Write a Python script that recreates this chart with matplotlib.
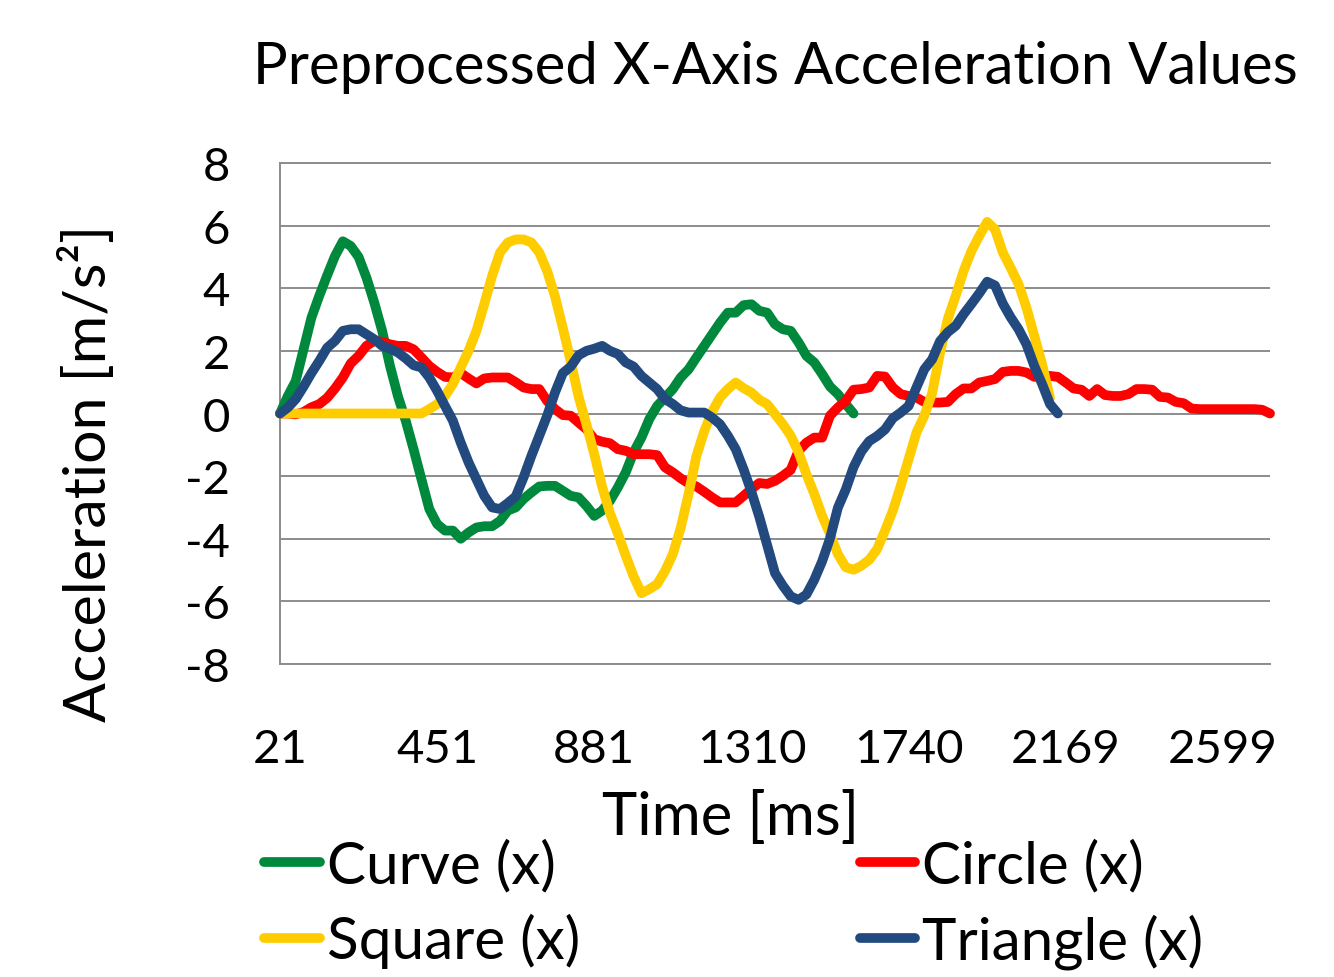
import matplotlib
matplotlib.use("Agg")
import matplotlib.pyplot as plt
from matplotlib.lines import Line2D
import numpy as np

plt.rcParams['font.family'] = ['Lato', 'DejaVu Sans']

title = "Preprocessed X-Axis Acceleration Values"
x_label = "Time [ms]"
y_label = "Acceleration [m/s²]"

# category tick labels (one label every 20 samples)
x_tick_labels = ["21", "451", "881", "1310", "1740", "2169", "2599"]
label_every = 20
y_ticks = [-8, -6, -4, -2, 0, 2, 4, 6, 8]

curve_x = [0, 0.56, 1.04, 2.05, 3.06, 3.76, 4.41, 5.03, 5.5, 5.35,
           5.0, 4.34, 3.54, 2.64, 1.52, 0.56, -0.23, -1.14, -2.1, -3.05,
           -3.53, -3.74, -3.74, -4.0, -3.8, -3.64, -3.6, -3.6, -3.43, -3.1,
           -3.0, -2.73, -2.52, -2.33, -2.31, -2.31, -2.47, -2.63, -2.68, -2.95,
           -3.27, -3.1, -2.79, -2.36, -1.88, -1.24, -0.77, -0.18, 0.24, 0.51,
           0.78, 1.15, 1.41, 1.79, 2.16, 2.53, 2.9, 3.22, 3.22, 3.46,
           3.49, 3.28, 3.22, 2.85, 2.69, 2.64, 2.27, 1.84, 1.63, 1.26,
           0.86, 0.62, 0.3, 0.0]

circle_x = [0, 0, -0.03, 0.05, 0.2, 0.3, 0.5, 0.8, 1.15, 1.6,
            1.84, 2.16, 2.32, 2.29, 2.21, 2.16, 2.16, 2.05, 1.79, 1.52,
            1.33, 1.17, 1.15, 1.29, 1.12, 0.96, 1.12, 1.15, 1.15, 1.15,
            1.0, 0.83, 0.78, 0.78, 0.4, 0.14, -0.05, -0.07, -0.29, -0.5,
            -0.82, -0.9, -0.95, -1.14, -1.19, -1.3, -1.3, -1.3, -1.33, -1.72,
            -1.88, -2.07, -2.23, -2.33, -2.5, -2.68, -2.84, -2.84, -2.84, -2.63,
            -2.41, -2.22, -2.25, -2.15, -1.99, -1.8, -1.19, -0.93, -0.77, -0.77,
            -0.07, 0.19, 0.4, 0.76, 0.78, 0.83, 1.2, 1.18, 0.83, 0.62,
            0.56, 0.51, 0.37, 0.35, 0.35, 0.37, 0.62, 0.8, 0.8, 0.99,
            1.04, 1.1, 1.33, 1.36, 1.36, 1.31, 1.17, 1.2, 1.2, 1.17,
            0.99, 0.8, 0.76, 0.56, 0.78, 0.59, 0.56, 0.56, 0.62, 0.78,
            0.78, 0.76, 0.53, 0.51, 0.37, 0.33, 0.16, 0.14, 0.14, 0.14,
            0.14, 0.14, 0.14, 0.14, 0.14, 0.12, 0.0]

square_x = [0, 0, 0, 0, 0, 0, 0, 0, 0, 0,
            0, 0, 0, 0, 0, 0, 0, 0, 0, 0.14,
            0.3, 0.56, 0.94, 1.47, 2.0, 2.64, 3.5, 4.4, 5.14, 5.46,
            5.56, 5.56, 5.46, 5.14, 4.55, 3.74, 2.73, 1.67, 0.54, -0.35,
            -1.3, -2.34, -3.18, -3.84, -4.54, -5.2, -5.74, -5.61, -5.45, -5.03,
            -4.49, -3.65, -2.57, -1.35, -0.56, 0.06, 0.51, 0.78, 0.99, 0.81,
            0.67, 0.44, 0.3, -0.02, -0.34, -0.71, -1.24, -1.94, -2.57, -3.27,
            -3.85, -4.49, -4.91, -4.99, -4.86, -4.67, -4.33, -3.74, -3.1, -2.31,
            -1.46, -0.61, -0.07, 0.65, 1.93, 3.03, 3.76, 4.55, 5.19, 5.67,
            6.12, 5.88, 5.14, 4.65, 4.13, 3.38, 2.48, 1.57, 0.5]

triangle_x = [0, 0.19, 0.46, 0.86, 1.29, 1.68, 2.1, 2.32, 2.64, 2.69,
              2.69, 2.53, 2.37, 2.16, 2.07, 1.95, 1.76, 1.54, 1.47, 1.15,
              0.72, 0.24, -0.23, -0.93, -1.56, -2.1, -2.63, -3.0, -3.05, -2.86,
              -2.65, -2.04, -1.35, -0.71, -0.07, 0.67, 1.29, 1.5, 1.86, 2.0,
              2.07, 2.16, 2.0, 1.9, 1.63, 1.5, 1.2, 0.99, 0.78, 0.46,
              0.3, 0.1, 0.03, 0.03, 0.03, -0.13, -0.34, -0.71, -1.14, -1.78,
              -2.5, -3.3, -4.2, -5.1, -5.5, -5.84, -5.95, -5.78, -5.31, -4.72,
              -3.99, -3.01, -2.43, -1.71, -1.21, -0.88, -0.72, -0.51, -0.15, 0.03,
              0.24, 0.83, 1.41, 1.73, 2.31, 2.6, 2.8, 3.17, 3.5, 3.84,
              4.21, 4.09, 3.51, 3.07, 2.69, 2.21, 1.52, 0.94, 0.3, 0.0]

series = [
    ("Curve (x)", curve_x, "#00893C"),
    ("Circle (x)", circle_x, "#FF0000"),
    ("Square (x)", square_x, "#FFCC00"),
    ("Triangle (x)", triangle_x, "#224A7E"),
]

W, H = 1334, 978
fig = plt.figure(figsize=(W / 100, H / 100), dpi=100)
ax = fig.add_axes([280 / W, 1 - 665 / H, (1270 - 280) / W, (665 - 164) / H])

lw = 7.0
handles = {}
for z, (name, vals, color) in enumerate(series):
    xs = np.arange(len(vals))
    ln, = ax.plot(xs, vals, color=color, lw=lw, solid_capstyle='round',
                  solid_joinstyle='round', clip_on=False, zorder=3 + z)
    handles[name] = ln

n_cat = len(circle_x)
ax.set_xlim(0, n_cat - 1)
ax.set_ylim(-8, 8)
ax.set_xticks(np.arange(0, n_cat, label_every)[:len(x_tick_labels)])
ax.set_xticklabels(x_tick_labels)
ax.set_yticks(y_ticks)
ax.set_yticklabels([str(v) for v in y_ticks])

grid_c = "#8C8C8C"
ax.yaxis.grid(True, color=grid_c, lw=1.4)
ax.xaxis.grid(False)
for s in ["top", "bottom", "left"]:
    ax.spines[s].set_color(grid_c)
    ax.spines[s].set_linewidth(1.4)
ax.spines["right"].set_visible(False)
ax.tick_params(axis='both', length=0, labelsize=34, colors='black')
ax.tick_params(axis='x', pad=46)
ax.tick_params(axis='y', pad=36)
ax.set_axisbelow(True)

fig.text(775 / W, 1 - 68 / H, title, ha='center', va='center', fontsize=41.8)
fig.text(88 / W, 1 - 473 / H, y_label, ha='center', va='center', fontsize=42.5,
         rotation=90)
fig.text(731 / W, 1 - 818 / H, x_label, ha='center', va='center', fontsize=43)

order = ["Curve (x)", "Square (x)", "Circle (x)", "Triangle (x)"]
leg_handles = [Line2D([0], [0], color=handles[n].get_color(), lw=lw,
                      solid_capstyle='round') for n in order]
fig.legend(leg_handles, order, ncol=2, loc='center',
           bbox_to_anchor=(734 / W, 1 - 905 / H), frameon=False, fontsize=42,
           handlelength=0.95, handletextpad=0.12, columnspacing=4.8,
           labelspacing=0.35, borderpad=0, borderaxespad=0)

fig.savefig("out.png", dpi=100)
